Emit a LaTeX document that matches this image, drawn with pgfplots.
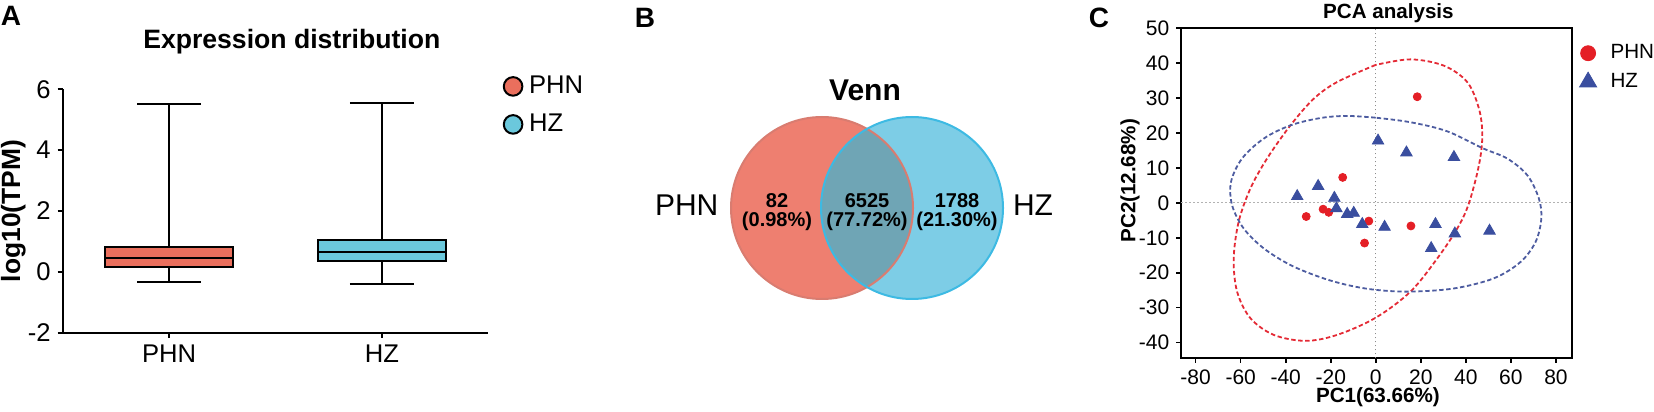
\documentclass[border=0pt]{standalone}
\usepackage{fontspec}
\setmainfont{Liberation Sans}
\usepackage{pgfplots}
\pgfplotsset{compat=1.18}
\usepgfplotslibrary{statistics}
\definecolor{phn}{HTML}{EA6F5D}
\definecolor{hz}{HTML}{6BC8DC}
\definecolor{vleft}{HTML}{EE7F70}
\definecolor{vright}{HTML}{7DCDE6}
\definecolor{vmid}{HTML}{6FA5B5}
\definecolor{vleftedge}{HTML}{D97C70}
\definecolor{vrightedge}{HTML}{3DBAE3}
\definecolor{pcared}{HTML}{E41F26}
\definecolor{pcablue}{HTML}{3A4E9F}
\definecolor{ellred}{HTML}{E42A35}
\definecolor{ellblue}{HTML}{4D5CA0}
\newcommand\fs[1]{\fontsize{#1}{#1}\selectfont}
\pgfplotsset{/pgf/number format/assume math mode=true}

\begin{document}
\begin{tikzpicture}
\useasboundingbox (0,0) rectangle (827pt,206pt);

% panel labels and titles
\node[font=\bfseries\fs{14}] at (5.5pt,198pt) {A};
\node[font=\bfseries\fs{14}] at (322.5pt,197pt) {B};
\node[font=\bfseries\fs{14}] at (549.5pt,197.3pt) {C};
\node[font=\bfseries\fs{13.3}] at (145.9pt,185pt) {Expression distribution};
\node[font=\bfseries\fs{10.3}] at (694.2pt,199.6pt) {PCA analysis};

% ---------- A: expression distribution ----------
\begin{axis}[
  at={(31.35pt,39.65pt)}, anchor=south west,
  scale only axis, width=212.8pt, height=121.7pt,
  xmin=0.5, xmax=2.5, ymin=-2, ymax=6,
  axis lines=left,
  axis line style={-, line width=1pt},
  xtick={1,2}, xticklabels={PHN,HZ},
  ytick={-2,0,2,4,6},
  tick align=outside, major tick length=2.5pt,
  tick style={line width=1pt, black},
  tick label style={font=\fs{12.8}},
  boxplot/draw direction=y,
  ylabel={log10(TPM)},
  ylabel style={font=\bfseries\fs{13.2}, at={(axis description cs:-0.1161,0.5)}, anchor=center},
  legend style={at={(axis description cs:1.0331,1.0559)}, anchor=north west,
    draw=none, fill=none, inner sep=0pt, row sep=8.7pt,
    nodes={inner sep=0pt, font=\fs{12.8}},
    /tikz/every odd column/.append style={column sep=0pt}},
  legend cell align=left,
]
\addplot[boxplot prepared={draw position=1, median=0.46, upper quartile=0.82,
  lower quartile=0.16, upper whisker=5.51, lower whisker=-0.32,
  box extend=0.6, whisker extend=0.3},
  fill=phn, draw=black, line width=1pt, forget plot] coordinates {};
\addplot[boxplot prepared={draw position=2, median=0.65, upper quartile=1.05,
  lower quartile=0.36, upper whisker=5.55, lower whisker=-0.39,
  box extend=0.6, whisker extend=0.3},
  fill=hz, draw=black, line width=1pt, forget plot] coordinates {};
\addlegendimage{legend image code/.code={\draw[fill=phn, draw=black, line width=1pt] (0pt,0pt) circle (4.65pt); \path (7.8pt,0pt);}}
\addlegendentry{PHN}
\addlegendimage{legend image code/.code={\draw[fill=hz, draw=black, line width=1pt] (0pt,0pt) circle (4.65pt); \path (7.8pt,0pt);}}
\addlegendentry{HZ}
\end{axis}

% ---------- B: Venn ----------
\begin{axis}[
  at={(320pt,41pt)}, anchor=south west,
  scale only axis, width=215pt, height=135pt,
  xmin=640, xmax=1070, ymin=82, ymax=352,
  hide axis, clip=false,
]
\fill[vleft] (axis cs:822,204) circle[radius=91];
\fill[vright] (axis cs:912,204) circle[radius=91];
\begin{scope}
\clip (axis cs:822,204) circle[radius=91];
\fill[vmid] (axis cs:912,204) circle[radius=91];
\end{scope}
\draw[vleftedge, line width=1pt] (axis cs:822,204) circle[radius=91];
\draw[vrightedge, line width=1pt] (axis cs:912,204) circle[radius=91];
\node[font=\bfseries\fs{15}] at (axis cs:865,322) {Venn};
\node[font=\fs{15}] at (axis cs:686.7,207) {PHN};
\node[font=\fs{15}] at (axis cs:1033,207) {HZ};
\node[font=\bfseries\fs{10}] at (axis cs:777,211) {82};
\node[font=\bfseries\fs{10}] at (axis cs:777,190.3) {(0.98\%)};
\node[font=\bfseries\fs{10}] at (axis cs:867,211) {6525};
\node[font=\bfseries\fs{10}] at (axis cs:867,190.3) {(77.72\%)};
\node[font=\bfseries\fs{10}] at (axis cs:957,211) {1788};
\node[font=\bfseries\fs{10}] at (axis cs:957,190.3) {(21.30\%)};
\end{axis}

% ---------- C: PCA ----------
\begin{axis}[
  at={(590.5pt,26.85pt)}, anchor=south west,
  scale only axis, width=195.35pt, height=165pt,
  xmin=-86.5, xmax=87, ymin=-44.5, ymax=50,
  axis line style={line width=1pt},
  xtick={-80,-60,...,80}, ytick={-40,-30,...,50},
  tick pos=left, tick align=outside, major tick length=2.3pt,
  tick style={line width=0.8pt, black},
  tick label style={font=\fs{10.5}},
  xlabel={PC1(63.66\%)},
  xlabel style={font=\bfseries\fs{10.3}, at={(axis description cs:0.504,-0.117)}, anchor=center},
  ylabel={PC2(12.68\%)},
  ylabel style={font=\bfseries\fs{10.3}, at={(axis description cs:-0.1305,0.538)}, anchor=center},
  legend style={at={(axis description cs:1.0182,0.9518)}, anchor=north west,
    draw=none, fill=none, inner sep=0pt, row sep=5pt,
    nodes={inner sep=0pt, font=\fs{10.3}},
    /tikz/every odd column/.append style={column sep=0pt}},
  legend cell align=left,
]
\addplot[gray!60, line width=0.6pt, dash pattern=on 0.8pt off 1.2pt, forget plot] coordinates {(-86.5,0) (87,0)};
\addplot[gray!90, line width=0.6pt, dash pattern=on 0.8pt off 1.2pt, forget plot] coordinates {(0,-44.5) (0,50)};
% confidence ellipses (traced)
\addplot[ellred, line width=0.9pt, dash pattern=on 2.2pt off 1.3pt, smooth, tension=0.55, forget plot] coordinates {
(-0.1,39.5) (-17.2,34.6) (-27.6,29.8) (-37.9,22.2) (-48.3,12.7) (-55.7,4.1)
(-60.9,-5.4) (-63.1,-15.9) (-61.6,-25.4) (-55.7,-33.0) (-45.3,-37.8) (-31.2,-39.5)
(-17.2,-37.8) (-0.1,-32.9) (15.4,-25.4) (27.3,-15.9) (36.2,-7.3) (41.3,-0.2)
(45.8,10.8) (47.3,19.3) (45.8,27) (40.6,34.6) (30.2,39.3) (15.4,41.1) (-0.1,39.5)};
\addplot[ellblue, line width=0.9pt, dash pattern=on 2.2pt off 1.3pt, smooth, tension=0.55, forget plot] coordinates {
(-0.1,24.4) (-12.7,24.9) (-24.6,24.3) (-37.9,22.2) (-49.8,18.4) (-59.4,12.7)
(-64.3,6) (-63.8,-0.7) (-58.7,-7.3) (-49.8,-13) (-37.9,-17.8) (-24.6,-21.3)
(-12.7,-23.5) (-0.1,-24.9) (15.4,-25.4) (34.7,-24.5) (52.4,-21.6) (64.3,-16.9)
(71,-11.1) (73.5,-4.5) (72.4,1.3) (67.3,7.9) (58.4,12.7) (47.3,15.7)
(31.7,20.5) (15.4,23.1) (-0.1,24.4)};
\addplot[only marks, mark=*, mark size=2pt, color=pcared, forget plot] coordinates {
(18.4,30.4) (-14.7,7.3) (-23.4,-1.8) (-20.9,-2.7) (-30.9,-3.9)
(-3.1,-5.2) (-5.0,-11.5) (15.6,-6.6)};
\addplot[only marks, mark=triangle*, mark size=3.3pt, color=pcablue, forget plot] coordinates {
(1.0,17.8) (13.6,14.4) (34.7,13.1) (-25.6,4.8) (-34.9,1.9) (-18.4,1.4)
(-17.5,-1.6) (-12.7,-3.2) (-9.8,-2.9) (-6.0,-6.1) (3.9,-6.9) (26.5,-6.1)
(35.1,-8.8) (50.5,-8.0) (24.6,-13.0)};
\addlegendimage{legend image code/.code={\fill[pcared] (0pt,0pt) circle (3.75pt); \path (11pt,0pt);}}
\addlegendentry{PHN}
\addlegendimage{legend image code/.code={\fill[pcablue] (90:4.9pt) -- (210:4.9pt) -- (330:4.9pt) -- cycle; \path (11pt,0pt);}}
\addlegendentry{HZ}
\end{axis}
\end{tikzpicture}
\end{document}
